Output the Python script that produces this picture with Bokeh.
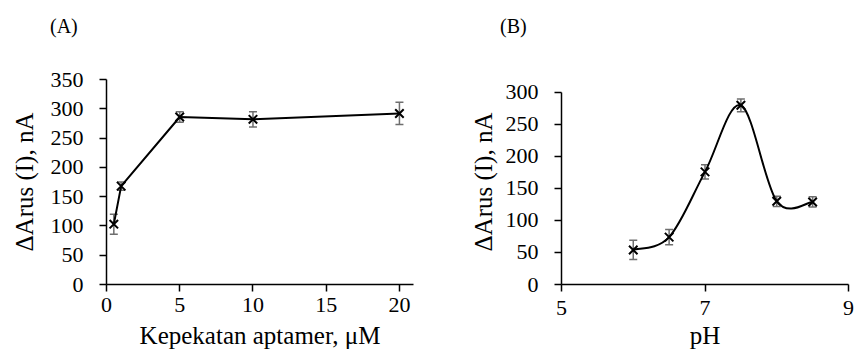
import numpy as np
from bokeh.plotting import figure
from bokeh.layouts import row, column
from bokeh.models import ColumnDataSource, Whisker, TeeHead, FixedTicker, Range1d, Div
from bokeh.embed import file_html
from bokeh.resources import INLINE

# ---- data ----
conc = [0.5, 1, 5, 10, 20]
current_a = [103, 168, 286, 282, 292]
err_a = [17, 7, 9, 13, 19]

ph = [6.0, 6.5, 7.0, 7.5, 8.0, 8.5]
current_b = [54, 74, 176, 280, 130, 129]
err_b = [15, 12, 11, 10, 8, 8]

xticks_a = [0, 5, 10, 15, 20]
yticks_a = [0, 50, 100, 150, 200, 250, 300, 350]
xticks_b = [5, 7, 9]
yticks_b = [0, 50, 100, 150, 200, 250, 300]

FONT = "Liberation Serif"
ERR_COLOR = "#6e6e6e"


def style(p, xt, yt, ybounds, s1, s2, ys2):
    p.outline_line_color = None
    p.xgrid.visible = False
    p.ygrid.visible = False
    p.background_fill_color = "white"
    p.border_fill_color = "white"
    for ax in (p.xaxis[0], p.yaxis[0]):
        ax.axis_line_color = "black"
        ax.axis_line_width = 1.5
        ax.major_tick_line_color = "black"
        ax.major_tick_line_width = 1.5
        ax.major_tick_out = 7
        ax.major_tick_in = 0
        ax.minor_tick_line_color = None
        ax.major_label_text_font = FONT
        ax.major_label_text_font_size = "22px"
        ax.major_label_text_color = "black"
        ax.axis_label_text_font = FONT
        ax.axis_label_text_font_size = "25px"
        ax.axis_label_text_font_style = "normal"
        ax.axis_label_text_color = "black"
    p.xaxis[0].ticker = FixedTicker(ticks=xt)
    p.yaxis[0].ticker = FixedTicker(ticks=yt)
    p.yaxis[0].bounds = ybounds
    p.xaxis[0].major_label_standoff = s1
    p.xaxis[0].axis_label_standoff = s2
    p.yaxis[0].major_label_standoff = 16
    p.yaxis[0].axis_label_standoff = ys2


def errorbars(p, x, y, e):
    src = ColumnDataSource(dict(x=x, lower=[a - b for a, b in zip(y, e)],
                                upper=[a + b for a, b in zip(y, e)]))
    w = Whisker(source=src, base="x", lower="lower", upper="upper",
                dimension="height", line_color=ERR_COLOR, line_width=1.5,
                upper_head=TeeHead(size=8, line_color=ERR_COLOR, line_width=1.5),
                lower_head=TeeHead(size=8, line_color=ERR_COLOR, line_width=1.5))
    p.add_layout(w)


def panel_tag(text, width, pad_left):
    return Div(text=f'<div style="padding:15px 0 0 {pad_left}px;">{text}</div>',
               width=width, height=42, margin=0,
               styles={"font-family": "'Liberation Serif'", "font-size": "20px",
                       "color": "black", "line-height": "1.15"})


# ---- panel A ----
pa = figure(width=440, height=315, output_backend="svg", toolbar_location=None,
            x_range=Range1d(0, 20.96), y_range=Range1d(0, 350),
            min_border_left=106, min_border_right=27, min_border_top=37,
            min_border_bottom=73, margin=0)
style(pa, xticks_a, yticks_a, (0, 350), 6, 7, 10)
pa.xaxis[0].axis_label = "Kepekatan aptamer, μM"
pa.yaxis[0].axis_label = "ΔArus (I), nA"
errorbars(pa, conc, current_a, err_a)
pa.line(conc, current_a, line_color="black", line_width=2)
pa.scatter(conc, current_a, marker="x", size=12, line_color="black", line_width=2)

# ---- panel B ----
pb = figure(width=415, height=315, output_backend="svg", toolbar_location=None,
            x_range=Range1d(5, 9), y_range=Range1d(0, 320.3),
            min_border_left=121, min_border_right=7, min_border_top=37,
            min_border_bottom=73, margin=0)
style(pb, xticks_b, yticks_b, (0, 300), 9, 4, 6)
pb.xaxis[0].axis_label = "pH"
pb.yaxis[0].axis_label = "ΔArus (I), nA"
errorbars(pb, ph, current_b, err_b)

# smoothed line (Catmull-Rom style Bezier through the measured points)
xs = np.array(ph, dtype=float)
ys = np.array(current_b, dtype=float)
n = len(xs)
x0s, y0s, x1s, y1s, cx0, cy0, cx1, cy1 = [], [], [], [], [], [], [], []
for i in range(n - 1):
    im1 = max(i - 1, 0)
    ip2 = min(i + 2, n - 1)
    x0s.append(xs[i]); y0s.append(ys[i])
    x1s.append(xs[i + 1]); y1s.append(ys[i + 1])
    cx0.append(xs[i] + (xs[i + 1] - xs[im1]) / 6.0)
    cy0.append(ys[i] + (ys[i + 1] - ys[im1]) / 6.0)
    cx1.append(xs[i + 1] - (xs[ip2] - xs[i]) / 6.0)
    cy1.append(ys[i + 1] - (ys[ip2] - ys[i]) / 6.0)
pb.bezier(x0=x0s, y0=y0s, x1=x1s, y1=y1s, cx0=cx0, cy0=cy0, cx1=cx1, cy1=cy1,
          line_color="black", line_width=2)
pb.scatter(ph, current_b, marker="x", size=12, line_color="black", line_width=2)

tags = row(panel_tag("(A)", 440, 50), panel_tag("(B)", 415, 60))
layout = column(tags, row(pa, pb))
open("out.html", "w").write(file_html(layout, INLINE))
